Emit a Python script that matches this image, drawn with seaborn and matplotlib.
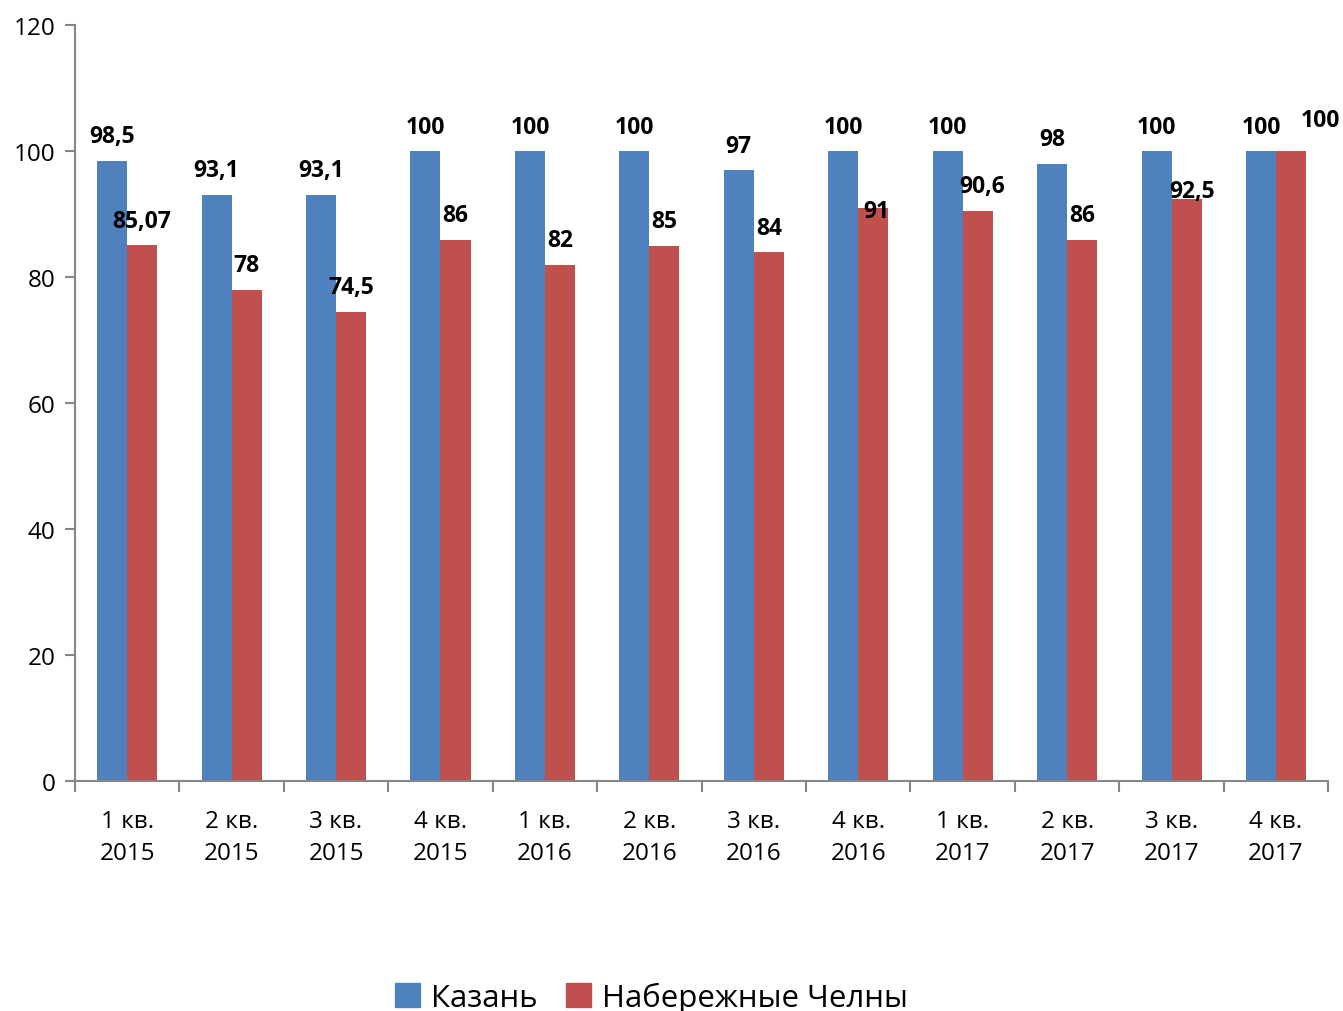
import numpy as np
import pandas as pd
import matplotlib
matplotlib.use("Agg")
import matplotlib.pyplot as plt
import seaborn as sns

# данные
quarters = ["1 кв.\n2015", "2 кв.\n2015", "3 кв.\n2015", "4 кв.\n2015",
            "1 кв.\n2016", "2 кв.\n2016", "3 кв.\n2016", "4 кв.\n2016",
            "1 кв.\n2017", "2 кв.\n2017", "3 кв.\n2017", "4 кв.\n2017"]
kazan = [98.5, 93.1, 93.1, 100, 100, 100, 97, 100, 100, 98, 100, 100]
chelny = [85.07, 78, 74.5, 86, 82, 85, 84, 91, 90.6, 86, 92.5, 100]
series = ["Казань", "Набережные Челны"]
colors = ["#4F81BD", "#C0504D"]

df = pd.DataFrame({
    "quarter": quarters * 2,
    "value": kazan + chelny,
    "series": [series[0]] * len(kazan) + [series[1]] * len(chelny),
})

sns.set_style("white")
plt.rcParams["font.family"] = ["Open Sans", "DejaVu Sans"]
plt.rcParams["text.color"] = "black"
plt.rcParams["xtick.color"] = "black"
plt.rcParams["ytick.color"] = "black"

fig = plt.figure(figsize=(13.43, 10.12), dpi=100)
ax = fig.add_axes([0.0558, 0.227, 0.9332, 0.747])

sns.barplot(data=df, x="quarter", y="value", hue="series", palette=colors,
            width=0.575, saturation=1, linewidth=0, ax=ax, legend=True)

def fmt(v):
    return f"{v:g}".replace(".", ",")

for i, cont in enumerate(ax.containers):
    vals = kazan if i == 0 else chelny
    texts = ax.bar_label(cont, labels=[fmt(v) for v in vals], padding=9,
                         fontsize=16.5, fontweight="bold", color="black")
    if i == 1:
        # подписи, сдвинутые вручную как в оригинале
        texts[7].xyann = (2, -11)
        texts[8].xyann = (3, 9)
        texts[10].xyann = (4, -3)
        texts[11].xyann = (21, 14)

ax.set_ylim(0, 120)
ax.set_xlim(-0.5, len(quarters) - 0.5)
ax.set_yticks(np.arange(0, 121, 20))
ax.set_xlabel("")
ax.set_ylabel("")
for t in ax.get_xticklabels():
    t.set_linespacing(1.45)

ax.set_xticks(np.arange(-0.5, len(quarters), 1), minor=True)
ax.tick_params(axis="x", which="major", length=0, labelsize=17.5, pad=20)
ax.tick_params(axis="x", which="minor", length=8, width=1.5, color="#868686",
               direction="out", bottom=True)
ax.tick_params(axis="y", length=7, width=1.5, color="#868686", labelsize=17.5,
               direction="out", left=True, pad=7)

for s in ["top", "right"]:
    ax.spines[s].set_visible(False)
for s in ["left", "bottom"]:
    ax.spines[s].set_color("#868686")
    ax.spines[s].set_linewidth(1.5)

ax.get_legend().remove()
handles = [plt.Rectangle((0, 0), 1, 1, color=c) for c in colors]
fig.legend(handles, series, loc="lower center", bbox_to_anchor=(0.485, -0.03),
           ncol=2, frameon=False, fontsize=22.5, handlelength=0.8,
           handleheight=0.8, handletextpad=0.35, columnspacing=0.9)

fig.savefig("out.png", dpi=100)
